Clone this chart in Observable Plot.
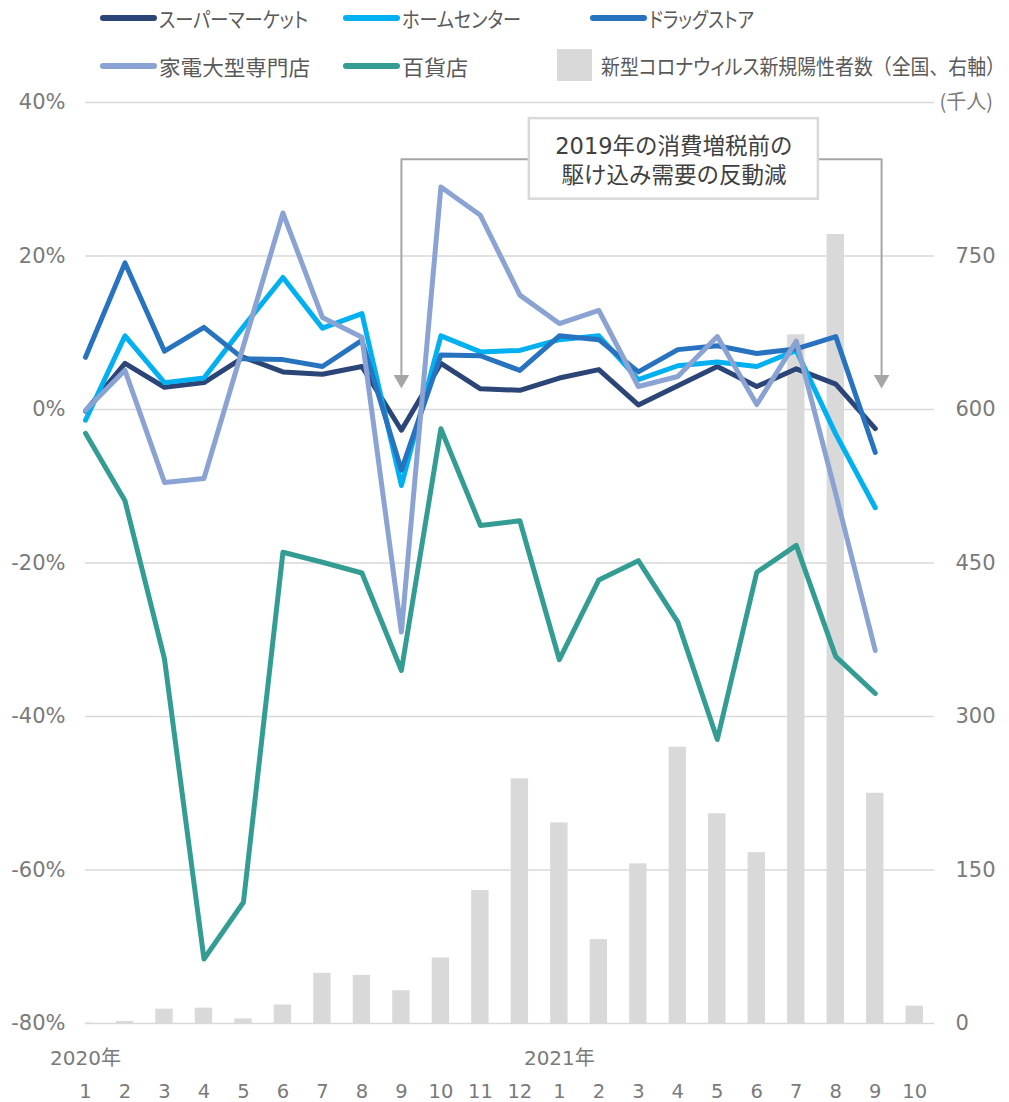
<!DOCTYPE html>
<html><head><meta charset="utf-8">
<script src="https://cdn.jsdelivr.net/npm/d3@7"></script>
<script src="https://cdn.jsdelivr.net/npm/@observablehq/plot@0.6"></script>
<style>
body{margin:0;background:#fff;}
#wrap{position:relative;width:1009px;height:1102px;overflow:hidden;font-family:"Noto Sans CJK JP",sans-serif;}
.leg{position:absolute;display:flex;align-items:center;color:#595959;font-size:21px;font-feature-settings:"palt";white-space:nowrap;height:40px;}
.sw{width:57px;height:6px;border-radius:3px;margin-right:2px;flex:none;}
.sq{width:35px;height:32px;background:#d9d9d9;margin-right:9px;flex:none;}
.lt{display:inline-block;transform-origin:0 50%;}
.fw{font-feature-settings:normal;}
#chart{position:absolute;left:0;top:0;}
</style></head><body>
<div id="wrap"><div id="chart"></div></div>
<script>
// ---- data ----
const monthLabels = ["1","2","3","4","5","6","7","8","9","10","11","12","1","2","3","4","5","6","7","8","9","10"];
const yearLabels = ["2020年","2021年"];
const yearIndex = [0, 12];
// 新型コロナウィルス新規陽性者数（千人）
const cases = [0.5, 2, 14, 15, 4.5, 18, 49, 47, 32, 64, 130, 239, 196, 82, 156, 270, 205, 167, 673, 771, 225, 17];
const seriesNames = ["スーパーマーケット","ホームセンター","ドラッグストア","家電大型専門店","百貨店"];
const seriesColors = ["#2c4577","#00b0f0","#2873c0","#8ba3d3","#339c93"];
const supermarket = [-0.2, 6.0, 2.9, 3.5, 6.8, 4.9, 4.6, 5.6, -2.7, 6.0, 2.7, 2.5, 4.1, 5.2, 0.6, 3.1, 5.6, 3.0, 5.3, 3.3, -2.5];
const homeCenter  = [-1.4, 9.6, 3.5, 4.1, 10.8, 17.2, 10.6, 12.5, -9.9, 9.6, 7.5, 7.7, 9.1, 9.6, 3.9, 5.7, 6.2, 5.6, 7.7, -3.2, -12.8];
const drugStore   = [6.8, 19.1, 7.6, 10.7, 6.6, 6.5, 5.6, 9.0, -7.9, 7.1, 7.0, 5.1, 9.6, 9.1, 4.9, 7.8, 8.3, 7.3, 7.9, 9.5, -5.6];
const electronics = [-0.1, 5.1, -9.5, -9.0, 8.3, 25.6, 12.0, 9.4, -29.0, 29.0, 25.3, 14.9, 11.2, 12.9, 3.0, 4.3, 9.5, 0.65, 8.9, -11.0, -31.4];
const deptStore   = [-3.1, -11.9, -32.5, -71.6, -64.2, -18.6, -19.9, -21.3, -34.0, -2.5, -15.1, -14.5, -32.6, -22.2, -19.7, -27.7, -43.0, -21.2, -17.7, -32.2, -37.0];
const seriesValues = [supermarket, homeCenter, drugStore, electronics, deptStore];
const leftTicks = [-80, -60, -40, -20, 0, 20, 40];
const rightTicks = [0, 150, 300, 450, 600, 750];
const barLegend = "新型コロナウィルス新規陽性者数";
const barLegendNote = "（全国、右軸）";
const noteText = "2019年の消費増税前の\n駆け込み需要の反動減";
// annotation placement (x: month index, y: %)
const note = {x1: 11.24, x2: 18.56, yTop: 37.9, yBottom: 27.4, yLine: 32.6, arrowX: [8, 20.16], arrowTop: 4.6, arrowCenter: 3.9};

// ---- helpers ----
const yMin = -80, yMax = 40, rightMax = 900;
const toLeft = v => yMin + v / rightMax * (yMax - yMin);
const caseRows = cases.map((v, i) => ({i, v}));

// ---- legend (layout) ----
const wrap = document.getElementById("wrap");
const legendPos = [[100, -2], [343, -2], [590, -2], [100, 46], [343, 46]];
const legendTextWidth = [149, 119, 105, 151, 66];
function fitText(span, w) {
  const cw = span.getBoundingClientRect().width;
  if (cw > 0) span.style.transform = `scaleX(${w / cw})`;
}
seriesNames.forEach((n, k) => {
  const d = document.createElement("div");
  d.className = "leg";
  d.style.left = legendPos[k][0] + "px";
  d.style.top = legendPos[k][1] + "px";
  d.innerHTML = `<span class="sw" style="background:${seriesColors[k]}"></span><span class="lt">${n}</span>`;
  wrap.appendChild(d);
  fitText(d.querySelector(".lt"), legendTextWidth[k]);
});
{
  const d = document.createElement("div");
  d.className = "leg";
  d.style.left = "557px";
  d.style.top = "45px";
  d.innerHTML = `<span class="sq"></span><span class="lt">${barLegend}<span class="fw">${barLegendNote}</span></span>`;
  wrap.appendChild(d);
  fitText(d.querySelector(".lt"), 404);
}

// ---- chart ----
const axisFont = "DejaVu Sans, Noto Sans CJK JP, sans-serif";
const lines = seriesValues.map((vals, k) =>
  Plot.line(vals.map((v, i) => ({i, v})), {
    x: "i", y: "v", stroke: seriesColors[k], strokeWidth: 5,
    strokeLinejoin: "round", strokeLinecap: "round"
  })
);

const chart = Plot.plot({
  width: 1009, height: 1102,
  marginTop: 102, marginBottom: 79, marginLeft: 85, marginRight: 75,
  x: {type: "linear", domain: [0, 21.5], axis: null},
  y: {domain: [yMin, yMax], axis: null, label: null},
  style: {fontFamily: axisFont, background: "transparent", overflow: "visible"},
  marks: [
    Plot.gridY(leftTicks, {stroke: "#d9d9d9", strokeOpacity: 1, strokeWidth: 1.5}),
    Plot.rect(caseRows, {
      x1: d => d.i - 0.22, x2: d => d.i + 0.22,
      y1: () => yMin, y2: d => toLeft(d.v),
      fill: "#d9d9d9", clip: true
    }),
    ...lines,
    // annotation
    Plot.line([[note.x1, note.yLine], [note.arrowX[0], note.yLine], [note.arrowX[0], note.arrowTop]],
      {x: d => d[0], y: d => d[1], stroke: "#a6a6a6", strokeWidth: 2}),
    Plot.line([[note.x2, note.yLine], [note.arrowX[1], note.yLine], [note.arrowX[1], note.arrowTop]],
      {x: d => d[0], y: d => d[1], stroke: "#a6a6a6", strokeWidth: 2}),
    Plot.dot(note.arrowX, {x: d => d, y: () => note.arrowCenter, symbol: "triangle", r: 5.8,
      fill: "#a6a6a6", stroke: "none", rotate: 180}),
    Plot.rect([note], {x1: d => d.x1, x2: d => d.x2, y1: d => d.yBottom, y2: d => d.yTop,
      fill: "white", stroke: "#d9d9d9", strokeWidth: 2.5}),
    Plot.text([noteText], {x: () => (note.x1 + note.x2) / 2, y: () => note.yLine, text: d => d,
      fontSize: 22.5, lineHeight: 1.27, fill: "#404040", fontFamily: axisFont}),
    // axes
    Plot.axisY(leftTicks, {anchor: "left", label: null, tickSize: 0, tickPadding: 20,
      tickFormat: d => d + "%", fontSize: 21, fill: "#7a7a7a"}),
    Plot.axisY(rightTicks.map(toLeft), {anchor: "right", label: null, tickSize: 0, tickPadding: 21,
      tickFormat: d => String(Math.round((d - yMin) / (yMax - yMin) * rightMax)), fontSize: 21, fill: "#7a7a7a"}),
    Plot.text(["(千人)"], {x: () => 21.5, y: () => yMax, text: d => d, dx: 5, textAnchor: "start",
      fontSize: 20, fill: "#7a7a7a", fontFamily: "Noto Sans CJK JP, sans-serif"}),
    Plot.text(monthLabels, {x: (d, i) => i, y: () => yMin, text: d => d, dy: 68,
      fontSize: 19.5, fill: "#7a7a7a"}),
    Plot.text(yearLabels, {x: (d, i) => yearIndex[i], y: () => yMin, text: d => d, dy: 35,
      fontSize: 20, fill: "#7a7a7a"})
  ]
});
document.getElementById("chart").appendChild(chart);
</script>
</body></html>
